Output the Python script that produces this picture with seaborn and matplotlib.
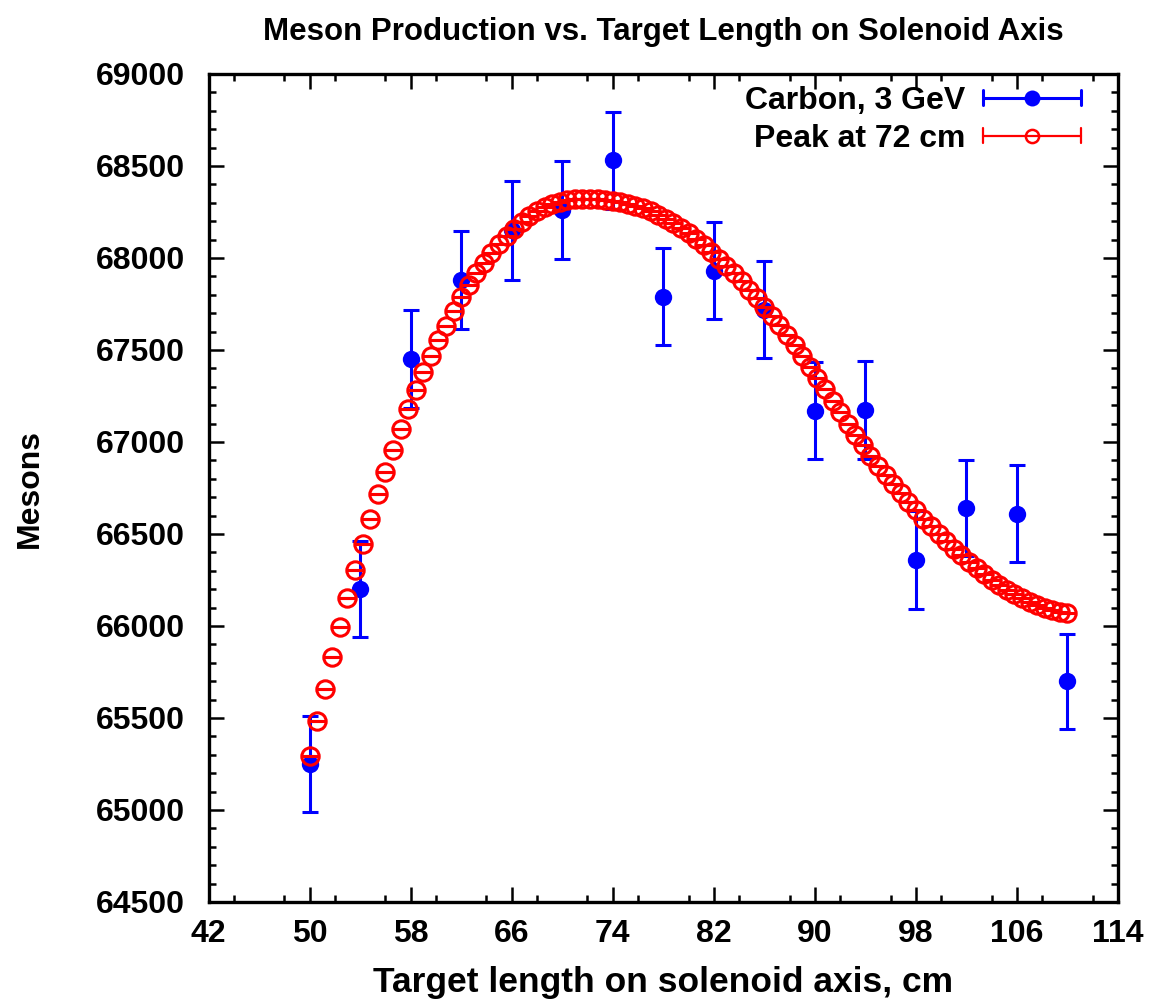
import numpy as np
import pandas as pd
import matplotlib
matplotlib.use("Agg")
import matplotlib.pyplot as plt
from matplotlib.lines import Line2D
from matplotlib.legend_handler import HandlerBase
from matplotlib.ticker import MultipleLocator
import seaborn as sns

# ---------------- data ----------------
carbon_x = [50, 54, 58, 62, 66, 70, 74, 78, 82, 86, 90, 94, 98, 102, 106, 110]
carbon_y = [65250, 66200, 67450, 67880, 68150, 68260, 68530, 67790,
            67930, 67720, 67170, 67175, 66360, 66640, 66610, 65700]
carbon_err = [261, 262, 265, 266, 267, 267, 265, 265,
              264, 265, 265, 265, 265, 262, 264, 259]

peak_x = [50.0, 50.6, 51.2, 51.8, 52.4, 53.0, 53.6, 54.2, 54.8, 55.4,
          56.0, 56.6, 57.2, 57.8, 58.4, 59.0, 59.6, 60.2, 60.8, 61.4,
          62.0, 62.6, 63.2, 63.8, 64.4, 65.0, 65.6, 66.2, 66.8, 67.4,
          68.0, 68.6, 69.2, 69.8, 70.4, 71.0, 71.6, 72.2, 72.8, 73.4,
          74.0, 74.6, 75.2, 75.8, 76.4, 77.0, 77.6, 78.2, 78.8, 79.4,
          80.0, 80.6, 81.2, 81.8, 82.4, 83.0, 83.6, 84.2, 84.8, 85.4,
          86.0, 86.6, 87.2, 87.8, 88.4, 89.0, 89.6, 90.2, 90.8, 91.4,
          92.0, 92.6, 93.2, 93.8, 94.4, 95.0, 95.6, 96.2, 96.8, 97.4,
          98.0, 98.6, 99.2, 99.8, 100.4, 101.0, 101.6, 102.2, 102.8, 103.4,
          104.0, 104.6, 105.2, 105.8, 106.4, 107.0, 107.6, 108.2, 108.8, 109.4,
          110.0]
peak_y = [65295, 65482, 65658, 65831, 65994, 66150, 66302, 66443, 66584, 66716,
          66838, 66956, 67072, 67180, 67285, 67379, 67467, 67555, 67633, 67714,
          67787, 67852, 67920, 67975, 68028, 68075, 68119, 68160, 68195, 68228,
          68255, 68278, 68296, 68307, 68314, 68318, 68320, 68320, 68319, 68315,
          68311, 68304, 68296, 68285, 68271, 68255, 68235, 68213, 68189, 68162,
          68134, 68102, 68069, 68034, 67996, 67958, 67916, 67873, 67828, 67782,
          67735, 67685, 67634, 67581, 67525, 67469, 67409, 67348, 67286, 67224,
          67161, 67100, 67040, 66981, 66926, 66871, 66820, 66770, 66721, 66674,
          66628, 66584, 66541, 66500, 66460, 66421, 66384, 66349, 66315, 66282,
          66252, 66224, 66197, 66172, 66150, 66130, 66113, 66098, 66086, 66077,
          66068]
peak_err = [0] * len(peak_y)

x_ticks = [42, 50, 58, 66, 74, 82, 90, 98, 106, 114]
y_ticks = [64500, 65000, 65500, 66000, 66500, 67000, 67500, 68000, 68500, 69000]

title = "Meson Production vs. Target Length on Solenoid Axis"
xlabel = "Target length on solenoid axis, cm"
ylabel = "Mesons"
label_carbon = "Carbon, 3 GeV"
label_peak = "Peak at 72 cm"

carbon_df = pd.DataFrame({"x": carbon_x, "y": carbon_y, "err": carbon_err})
peak_df = pd.DataFrame({"x": peak_x, "y": peak_y, "err": peak_err})

# ---------------- style ----------------
sns.set_theme(style="ticks")
plt.rcParams["font.family"] = ["Liberation Sans", "DejaVu Sans"]
plt.rcParams["font.weight"] = "bold"
for k in ["text.color", "axes.labelcolor", "xtick.color", "ytick.color",
          "axes.edgecolor"]:
    plt.rcParams[k] = "black"

BLUE = "#0000ff"
RED = "#ff0000"
FS = 23

W, H = 1159, 1008
fig = plt.figure(figsize=(W / 100, H / 100), dpi=100)
L, R, T, B = 208.5, 1118, 74, 902
ax = fig.add_axes([L / W, 1 - B / H, (R - L) / W, (B - T) / H])

# Carbon data: error bars then filled markers
ax.errorbar(carbon_df["x"], carbon_df["y"], yerr=carbon_df["err"], fmt="none",
            ecolor=BLUE, elinewidth=2.2, capsize=6, capthick=2.2, zorder=2)
sns.scatterplot(data=carbon_df, x="x", y="y", ax=ax, color=BLUE, marker="o",
                s=12.5 ** 2, linewidth=0, zorder=3, legend=False)

# Fit curve: open circles with zero-length error bars (cap line across each)
ax.errorbar(peak_df["x"], peak_df["y"], yerr=peak_df["err"], fmt="o",
            ms=12.5, mfc="none", mec=RED, mew=2.2,
            ecolor=RED, elinewidth=1.5, capsize=6.5, capthick=2.2, zorder=5)

ax.set_xlim(42, 114)
ax.set_ylim(64500, 69000)
ax.set_xticks(x_ticks)
ax.set_yticks(y_ticks)
ax.set_xticklabels([str(v) for v in x_ticks])
ax.set_yticklabels([str(v) for v in y_ticks])
ax.xaxis.set_minor_locator(MultipleLocator(4))
ax.yaxis.set_minor_locator(MultipleLocator(100))
ax.tick_params(which="both", direction="in", top=True, right=True,
               color="black", width=1.8)
ax.tick_params(which="major", length=10.5)
ax.tick_params(which="minor", length=5)
ax.tick_params(axis="x", which="major", pad=12, labelsize=FS, labelcolor="black")
ax.tick_params(axis="y", which="major", pad=17, labelsize=FS, labelcolor="black")
for lab in ax.get_xticklabels() + ax.get_yticklabels():
    lab.set_fontweight("bold")
for sp in ax.spines.values():
    sp.set_linewidth(2.4)
    sp.set_color("black")
ax.set_xlabel("")
ax.set_ylabel("")

cx = (L + R) / 2 / W
fig.text(cx, 1 - 40 / H, title, ha="center", va="baseline",
         fontsize=22.5, fontweight="bold", color="black")
fig.text(cx, 1 - 992 / H, xlabel, ha="center", va="baseline",
         fontsize=25.5, fontweight="bold", color="black")
fig.text(30 / W, 1 - (T + B) / 2 / H, ylabel, ha="center", va="center",
         rotation=90, fontsize=FS, fontweight="bold", color="black")


# ---------------- legend ----------------
class HErrHandler(HandlerBase):
    def __init__(self, color, lw, mfc, ms, mew, caph):
        super().__init__()
        self.color, self.lw, self.mfc = color, lw, mfc
        self.ms, self.mew, self.caph = ms, mew, caph

    def create_artists(self, legend, orig_handle, xdescent, ydescent,
                       width, height, fontsize, trans):
        y = (height - ydescent) / 2
        x0, x1 = -xdescent, -xdescent + width
        h = self.caph / 2
        arts = [
            Line2D([x0, x1], [y, y], color=self.color, lw=self.lw),
            Line2D([x0, x0], [y - h, y + h], color=self.color, lw=self.lw),
            Line2D([x1, x1], [y - h, y + h], color=self.color, lw=self.lw),
            Line2D([(x0 + x1) / 2], [y], ls="none", marker="o", ms=self.ms,
                   mfc=self.mfc, mec=self.color, mew=self.mew),
        ]
        for a in arts:
            a.set_transform(trans)
        return arts


h_carbon = Line2D([], [], color=BLUE)
h_peak = Line2D([], [], color=RED)
leg = ax.legend([h_carbon, h_peak], [label_carbon, label_peak],
                handler_map={h_carbon: HErrHandler(BLUE, 2.2, BLUE, 11.5, 0, 11),
                             h_peak: HErrHandler(RED, 1.6, "none", 9.5, 1.8, 11)},
                loc="upper right", bbox_to_anchor=(1 - 37 / (R - L), 1 - 12 / (B - T)),
                frameon=False, markerfirst=False, borderaxespad=0, borderpad=0,
                handlelength=3.07, handletextpad=0.56, labelspacing=0.25,
                prop={"size": FS, "weight": "bold"})
for t in leg.get_texts():
    t.set_color("black")

fig.savefig("out.png", dpi=100)
